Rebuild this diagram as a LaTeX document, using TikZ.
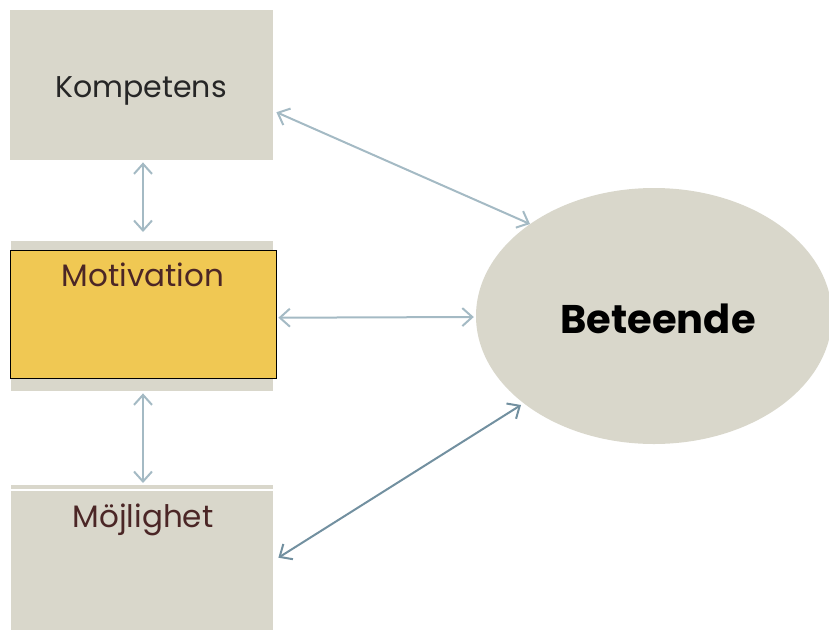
\documentclass[tikz,border=0pt]{standalone}
\usepackage{fontspec}
\setmainfont{Poppins}
\usetikzlibrary{arrows.meta,shapes.geometric}
\definecolor{boxgray}{HTML}{D9D7CB}
\definecolor{motyellow}{HTML}{F0C853}
\definecolor{txtbrown}{HTML}{4B2626}
\definecolor{arrlight}{HTML}{A4BAC4}
\definecolor{arrdark}{HTML}{7290A0}
\tikzset{
  graybox/.style={fill=boxgray, draw=none, inner sep=0pt, anchor=north west},
  link/.style={draw=arrlight, line width=2pt, {Straight Barb[length=10pt,width=18pt]}-{Straight Barb[length=10pt,width=18pt]}},
  darklink/.style={link, draw=arrdark},
  lbl/.style={inner sep=0pt, anchor=base}
}
\begin{document}
\begin{tikzpicture}[x=1pt,y=-1pt]
\useasboundingbox (0,0) rectangle (829,630);
% Kompetens
\node[graybox, minimum width=263pt, minimum height=150pt] (komp) at (10,10) {};
\node[lbl, font=\fontsize{30}{34}\selectfont, text=black!85] (kompt) at (141,97) {Kompetens};
% Motivation
\node[graybox, minimum width=262pt, minimum height=150pt] (motback) at (11,241) {};
\node[fill=motyellow, draw=black, line width=1.4pt, inner sep=0pt, minimum width=266pt, minimum height=128pt, anchor=north west] (mot) at (10,250) {};
\node[lbl, font=\fontsize{31}{35}\selectfont, text=txtbrown] (mott) at (143,286) {Motivation};
% Möjlighet
\node[graybox, minimum width=262pt, minimum height=145pt] (moj) at (11,485) {};
\coordinate (mojl) at (11,490);
\coordinate (mojr) at (273,490);
\draw[white, line width=1.5pt] (mojl) -- (mojr);
\node[lbl, font=\fontsize{31}{35}\selectfont, text=txtbrown] (mojt) at (143,527) {Möjlighet};
% Beteende
\node[ellipse, fill=boxgray, draw=none, inner sep=0pt, minimum width=356pt, minimum height=256pt] (bet) at (654,316) {};
\node[lbl, font=\bfseries\fontsize{40}{46}\selectfont, text=black] (bett) at (658,333) {Beteende};
% connectors
\draw[link] ([shift={(133,2)}]komp.south west) -- ([shift={(132,-9)}]motback.north west);
\draw[link] ([shift={(132,2)}]motback.south west) -- ([shift={(132,-2)}]moj.north west);
\draw[link] ([shift={(3,27)}]komp.east) -- ([shift={(-124,-92)}]bet.center);
\draw[link] ([shift={(1,3)}]mot.east) -- ([shift={(-2,1)}]bet.west);
\draw[darklink] ([shift={(5,0)}]moj.east) -- ([shift={(-133,89)}]bet.center);
\end{tikzpicture}
\end{document}
